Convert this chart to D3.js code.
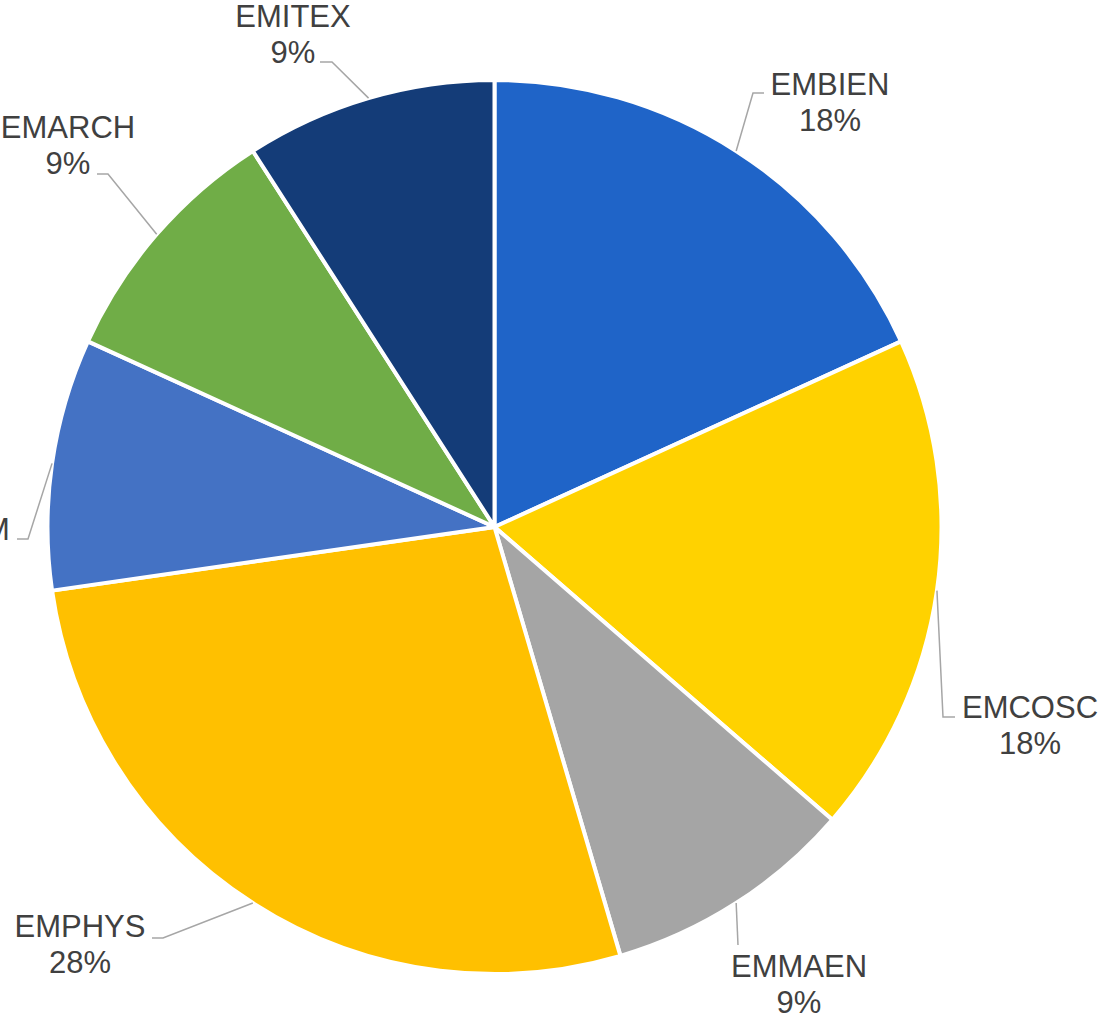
<!DOCTYPE html>
<html>
<head>
<meta charset="utf-8">
<script src="https://cdn.jsdelivr.net/npm/d3@7"></script>
<style>
  body { margin: 0; background: #fff; }
  svg { display: block; }
</style>
</head>
<body>
<svg id="chart"></svg>
<script>
// slices, clockwise from 12 o'clock
let categories = ['EMBIEN', 'EMCOSC', 'EMMAEN', 'EMPHYS', 'EMCHEM', 'EMARCH', 'EMITEX'];
let values = [2, 2, 1, 3, 1, 1, 1];
let colors = ['#1F64C8', '#FFD200', '#A5A5A5', '#FFC000', '#4472C4', '#70AD47', '#143C78'];

// label placement (text centre, first baseline, leader attach point, elbow dx)
let labelLayout = [
  { x: 830, y: 95, ax: 764, ay: 93, dx: -11 },
  { x: 1030, y: 718, ax: 955, ay: 717, dx: -12 },
  { x: 799, y: 977, ax: 738, ay: 945, dx: 0 },
  { x: 80, y: 937, ax: 152, ay: 938, dx: 11 },
  { x: -59, y: 540, ax: 17, ay: 539, dx: 11 },
  { x: 68, y: 138, ax: 97, ay: 174, dx: 11 },
  { x: 293, y: 27, ax: 320, ay: 62, dx: 12 }
];

let width = 1100;
let height = 1018;
let cx = 494.5;
let cy = 527;
let radius = 447;

// whole percentages that add up to 100 (largest remainder)
let pctLabels = function(vals) {
  let total = d3.sum(vals);
  let raw = vals.map(v => v / total * 100);
  let pct = raw.map(Math.floor);
  let left = 100 - d3.sum(pct);
  let order = raw.map((r, i) => i).sort((a, b) => (raw[b] - pct[b]) - (raw[a] - pct[a]));
  for (let k = 0; k < left; k++) pct[order[k]]++;
  return pct;
};

let percents = pctLabels(values);

let svg = d3.select('#chart')
  .attr('width', width)
  .attr('height', height);

let data = categories.map((c, i) => ({
  name: c, value: values[i], pct: percents[i], color: colors[i], layout: labelLayout[i]
}));

let pie = d3.pie()
  .value(d => d.value)
  .sort(null);

let arc = d3.arc()
  .innerRadius(0)
  .outerRadius(radius);

let edgeArc = d3.arc()
  .innerRadius(radius)
  .outerRadius(radius);

let arcs = pie(data);

let g = svg.append('g')
  .attr('transform', `translate(${cx},${cy})`);

g.selectAll('path.slice')
  .data(arcs)
  .enter()
  .append('path')
    .classed('slice', true)
    .attr('d', arc)
    .attr('fill', d => d.data.color)
    .attr('stroke', '#fff')
    .attr('stroke-width', 4)
    .attr('stroke-linejoin', 'round');

// leader lines
svg.selectAll('polyline.leader')
  .data(arcs)
  .enter()
  .append('polyline')
    .classed('leader', true)
    .attr('points', d => {
      let l = d.data.layout;
      let e = edgeArc.centroid(d);
      return [[l.ax, l.ay], [l.ax + l.dx, l.ay], [cx + e[0], cy + e[1]]].map(p => p.join(',')).join(' ');
    })
    .attr('fill', 'none')
    .attr('stroke', '#A6A6A6')
    .attr('stroke-width', 1.5);

// labels
let labels = svg.selectAll('text.label')
  .data(arcs)
  .enter()
  .append('text')
    .classed('label', true)
    .attr('text-anchor', 'middle')
    .style('font-family', 'Arial, "Liberation Sans", sans-serif')
    .style('font-size', '31px')
    .attr('fill', '#404040');

labels.append('tspan')
  .attr('x', d => d.data.layout.x)
  .attr('y', d => d.data.layout.y)
  .text(d => d.data.name);

labels.append('tspan')
  .attr('x', d => d.data.layout.x)
  .attr('y', d => d.data.layout.y + 36)
  .text(d => d.data.pct + '%');
</script>
</body>
</html>
